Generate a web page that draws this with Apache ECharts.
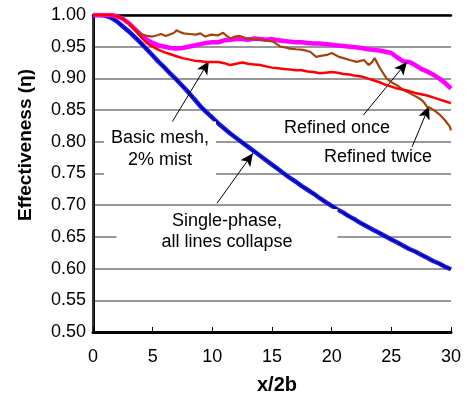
<!DOCTYPE html>
<html>
<head>
<meta charset="utf-8">
<script src="https://cdn.jsdelivr.net/npm/echarts@6/dist/echarts.min.js"></script>
<style>html,body{margin:0;padding:0;background:#fff;}#c{width:467px;height:395px;}</style>
</head>
<body>
<div id="c"></div>
<script>
// x/2b positions (shared by the smooth curves)
var xs = [0,0.5,1,1.5,2,2.5,3,3.5,4,4.5,5,5.5,6,6.5,7,7.5,8,8.5,9,9.5,10,10.5,11,11.5,12,12.5,13,13.5,14,14.5,15,15.5,16,16.5,17,17.5,18,18.5,19,19.5,20,20.5,21,21.5,22,22.5,23,23.5,24,24.5,25,25.5,26,26.5,27,27.5,28,28.5,29,29.5,30];
// Single-phase (all lines collapse)
var singlePhase = [1.000,1.000,0.999,0.996,0.990,0.982,0.974,0.965,0.956,0.946,0.936,0.926,0.917,0.907,0.898,0.888,0.878,0.867,0.856,0.847,0.838,0.829,0.821,0.813,0.806,0.799,0.792,0.785,0.778,0.771,0.764,0.757,0.750,0.743,0.737,0.730,0.724,0.718,0.711,0.705,0.699,0.693,0.688,0.682,0.677,0.671,0.666,0.661,0.656,0.651,0.646,0.641,0.636,0.631,0.627,0.622,0.617,0.612,0.608,0.603,0.599];
// Basic mesh, 2% mist
var basicMesh = [1.000,1.000,1.000,1.000,0.998,0.994,0.987,0.977,0.966,0.956,0.950,0.945,0.941,0.938,0.935,0.932,0.930,0.928,0.927,0.926,0.926,0.926,0.924,0.921,0.923,0.925,0.923,0.922,0.921,0.919,0.917,0.916,0.915,0.914,0.913,0.913,0.911,0.910,0.908,0.909,0.910,0.909,0.907,0.906,0.904,0.903,0.900,0.897,0.894,0.890,0.887,0.884,0.882,0.880,0.877,0.875,0.873,0.870,0.867,0.864,0.861];
// Refined once
var refinedOnce = [1.000,1.000,1.000,1.000,0.998,0.994,0.987,0.978,0.969,0.961,0.956,0.952,0.950,0.948,0.947,0.948,0.950,0.952,0.954,0.956,0.957,0.957,0.960,0.961,0.962,0.962,0.961,0.963,0.962,0.961,0.962,0.960,0.959,0.958,0.957,0.957,0.956,0.955,0.955,0.954,0.953,0.952,0.951,0.950,0.949,0.948,0.946,0.945,0.944,0.942,0.940,0.933,0.927,0.926,0.921,0.915,0.911,0.906,0.900,0.893,0.884];
// Refined twice (jagged, own x positions)
var twiceX = [0,0.5,1,1.5,2,2.5,3,3.5,4,4.5,5,5.4,5.7,6.1,6.4,6.8,7.0,7.3,7.6,8.1,8.6,9.0,9.4,9.9,10.5,10.9,11.2,11.5,11.9,12.3,12.9,13.4,14.0,14.5,15.1,15.4,15.7,16.1,16.5,17.0,17.6,18.2,18.7,19.2,19.6,20.0,20.6,21.0,21.5,22.1,22.7,23.1,23.4,23.6,24.05,24.6,25.0,25.5,26.0,26.6,27.0,27.4,27.7,28.0,28.3,28.7,29.1,29.5,29.9,30];
var refinedTwice = [1,1,1,1,0.998,0.994,0.987,0.978,0.970,0.967,0.966,0.968,0.970,0.967,0.969,0.972,0.976,0.973,0.971,0.970,0.969,0.971,0.966,0.969,0.968,0.972,0.967,0.963,0.966,0.967,0.963,0.962,0.961,0.960,0.958,0.954,0.950,0.949,0.947,0.946,0.945,0.942,0.934,0.936,0.937,0.940,0.934,0.932,0.929,0.926,0.929,0.921,0.926,0.932,0.916,0.900,0.894,0.889,0.882,0.876,0.872,0.868,0.863,0.855,0.853,0.848,0.842,0.834,0.824,0.818];
// x tick labels
var xTicks = [0,5,10,15,20,25,30];
// annotation arrows: [from x, from y, to x, to y] in data units
var arrowBasic  = [6.27, 0.820, 9.71, 0.927];
var arrowOnce   = [22.65, 0.842, 26.31, 0.926];
var arrowTwice  = [26.74, 0.792, 28.16, 0.856];
var arrowSingle = [10.39, 0.703, 13.40, 0.782];

function pairs(x, y){ return x.map(function(v,i){ return [v, y[i]]; }); }
function arrow(a){
  return [{coord:[a[0],a[1]], symbol:'none'}, {coord:[a[2],a[3]], symbol:'arrow', symbolSize:[9,13]}];
}

var FONT = '"Liberation Sans", Arial, sans-serif';
var chart = echarts.init(document.getElementById('c'), null, {renderer:'canvas'});
chart.setOption({
  animation: false,
  backgroundColor: '#fff',
  grid: {left: 93, top: 15, right: 16, bottom: 63, show: false},
  xAxis: [{
    type: 'value', min: 0, max: 30, interval: 5,
    axisLine: {show: true, onZero: false, lineStyle: {color: '#000', width: 3}},
    axisTick: {show: true, inside: true, length: 5, lineStyle: {color: '#000', width: 1}},
    axisLabel: {fontSize: 18, color: '#000', fontFamily: FONT, margin: 16,
      formatter: function(v){ return xTicks.indexOf(v) >= 0 ? String(v) : ''; }},
    splitLine: {show: false}
  }, {
    type: 'value', position: 'top', min: 0, max: 30,
    axisLine: {show: true, lineStyle: {color: '#000', width: 2.5}},
    axisTick: {show: false}, axisLabel: {show: false}, splitLine: {show: false}
  }],
  yAxis: [{
    type: 'value', min: 0.5, max: 1.0, interval: 0.05,
    axisLine: {show: true, onZero: false, lineStyle: {color: '#000', width: 3}},
    axisTick: {show: false},
    axisLabel: {fontSize: 18, color: '#000', fontFamily: FONT, margin: 7,
      formatter: function(v){ return v.toFixed(2); }},
    splitLine: {show: true, lineStyle: {color: '#777', width: 1.5}}
  }, {
    type: 'value', position: 'right', min: 0.5, max: 1.0,
    axisLine: {show: true, lineStyle: {color: '#333', width: 2}},
    axisTick: {show: false}, axisLabel: {show: false}, splitLine: {show: false}
  }],
  series: [
    {name: 'Single-phase', type: 'line', data: pairs(xs, singlePhase), showSymbol: false, symbol: 'none',
      lineStyle: {color: '#1a1aff', width: 4.5}, z: 2},
    {name: 'Single-phase 2', type: 'line', data: pairs(xs, singlePhase), showSymbol: false, symbol: 'none',
      lineStyle: {color: '#000080', width: 1.5}, z: 3},
    {name: 'Refined once', type: 'line', data: pairs(xs, refinedOnce), showSymbol: false, symbol: 'none',
      lineStyle: {color: '#ff00ff', width: 4.5}, z: 4},
    {name: 'Refined twice', type: 'line', data: pairs(twiceX, refinedTwice), showSymbol: false, symbol: 'none',
      lineStyle: {color: '#a5430f', width: 2.2}, z: 5},
    {name: 'Basic mesh', type: 'line', data: pairs(xs, basicMesh), showSymbol: false, symbol: 'none',
      lineStyle: {color: '#ff0000', width: 2.5}, z: 6,
      markLine: {
        silent: true, animation: false,
        label: {show: false},
        lineStyle: {color: '#000', width: 1, type: 'solid'},
        itemStyle: {color: '#000'},
        emphasis: {disabled: true},
        data: [arrow(arrowBasic), arrow(arrowOnce), arrow(arrowTwice), arrow(arrowSingle)]
      }}
  ],
  graphic: [
    {type: 'text', x: 160, y: 149, z: 100,
      style: {text: 'Basic mesh,\n2% mist', fill: '#000', font: '18px ' + FONT, align: 'center', verticalAlign: 'middle',
        lineHeight: 22, backgroundColor: '#fff', padding: [5, 7, 6, 7]}},
    {type: 'text', x: 227, y: 232, z: 100,
      style: {text: 'Single-phase,\nall lines collapse', fill: '#000', font: '18px ' + FONT, align: 'center', verticalAlign: 'middle',
        lineHeight: 21, backgroundColor: '#fff', padding: [2, 45, 2, 45]}},
    {type: 'text', x: 337, y: 128, z: 100,
      style: {text: 'Refined once', fill: '#000', font: '18px ' + FONT, align: 'center', verticalAlign: 'middle'}},
    {type: 'text', x: 378, y: 157, z: 100,
      style: {text: 'Refined twice', fill: '#000', font: '18px ' + FONT, align: 'center', verticalAlign: 'middle'}},
    {type: 'text', x: 277, y: 385, z: 100,
      style: {text: 'x/2b', fill: '#000', font: 'bold 20px ' + FONT, align: 'center', verticalAlign: 'middle'}},
    {type: 'text', x: 26, y: 145, rotation: Math.PI / 2, z: 100,
      style: {text: 'Effectiveness (\u03b7)', fill: '#000', font: 'bold 19px ' + FONT, align: 'center', verticalAlign: 'middle'}}
  ]
});
</script>
</body>
</html>
